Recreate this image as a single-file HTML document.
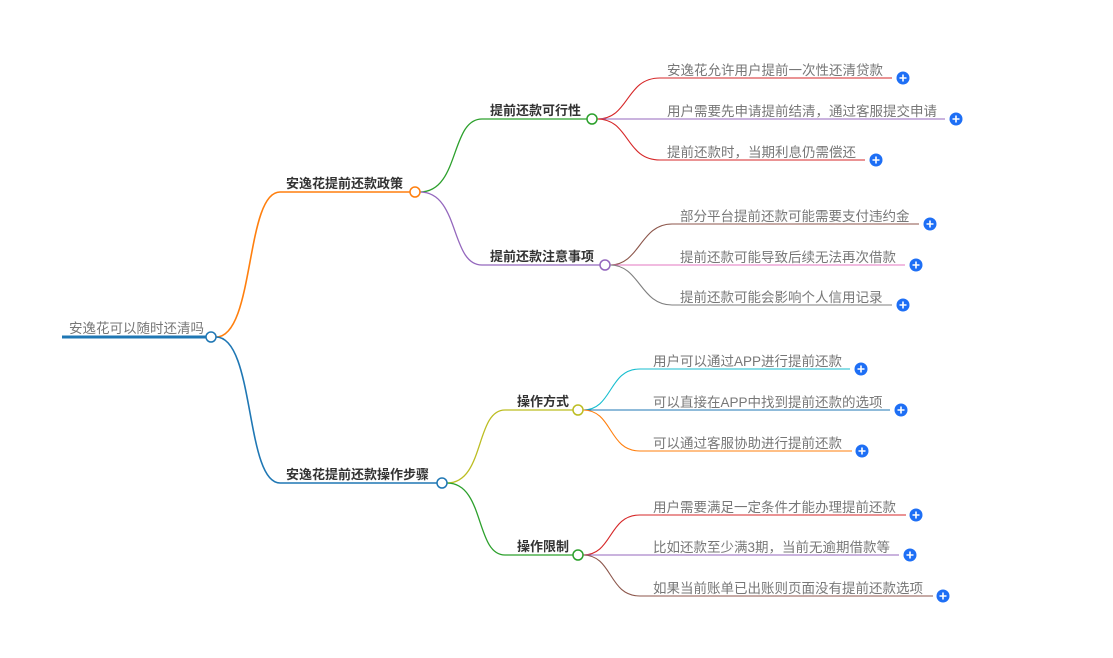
<!DOCTYPE html>
<html><head><meta charset="utf-8"><style>
html,body{margin:0;padding:0;background:#fff;width:1113px;height:658px;overflow:hidden}
svg text{font-family:"Liberation Sans","Noto Sans CJK SC",sans-serif;font-size:13.5px;fill:#777}
svg text.b{font-weight:bold;fill:#333;font-size:13px}
</style></head><body>
<svg width="1113" height="658" viewBox="0 0 1113 658" xmlns="http://www.w3.org/2000/svg" fill="none">
<defs>
<g id="plus"><circle r="6.5" fill="#1e6ff5"/><path d="M-3.5 0H3.5M0 -3.5V3.5" stroke="#fff" stroke-width="1.6"/></g>
</defs>
<!-- root -->
<path d="M62 337H206" stroke="#1f77b4" stroke-width="3"/>
<text x="69" y="333">安逸花可以随时还清吗</text>
<!-- L1 curves -->
<path d="M216 337C255 337 245 192 280 192H410" stroke="#ff7f0e" stroke-width="1.6"/>
<path d="M216 337C255 337 245 483 280 483H437" stroke="#1f77b4" stroke-width="1.6"/>
<text class="b" x="286" y="188">安逸花提前还款政策</text>
<text class="b" x="286" y="479">安逸花提前还款操作步骤</text>
<!-- L2 -->
<path d="M420 192C460 192 450 119 482 119H587" stroke="#2ca02c" stroke-width="1.3"/>
<path d="M420 192C460 192 450 265 482 265H600" stroke="#9467bd" stroke-width="1.3"/>
<path d="M447 483C485 483 475 410 505 410H573" stroke="#bcbd22" stroke-width="1.3"/>
<path d="M447 483C485 483 475 555 505 555H573" stroke="#2ca02c" stroke-width="1.3"/>
<text class="b" x="490" y="115">提前还款可行性</text>
<text class="b" x="490" y="261">提前还款注意事项</text>
<text class="b" x="517" y="406">操作方式</text>
<text class="b" x="517" y="551">操作限制</text>
<!-- leaves 可行性 -->
<path d="M597 119C630 119 625 78 660 78H892" stroke="#d62728" stroke-width="1.1"/>
<path d="M597 119H945" stroke="#9467bd" stroke-width="1.1"/>
<path d="M597 119C630 119 625 160 660 160H865" stroke="#d62728" stroke-width="1.1"/>
<text x="667" y="75">安逸花允许用户提前一次性还清贷款</text>
<text x="667" y="116">用户需要先申请提前结清，通过客服提交申请</text>
<text x="667" y="157">提前还款时，当期利息仍需偿还</text>
<!-- leaves 注意事项 -->
<path d="M610 265C640 265 640 224 672 224H919" stroke="#8c564b" stroke-width="1.1"/>
<path d="M610 265H905" stroke="#e377c2" stroke-width="1.1"/>
<path d="M610 265C640 265 640 305 672 305H892" stroke="#7f7f7f" stroke-width="1.1"/>
<text x="680" y="221">部分平台提前还款可能需要支付违约金</text>
<text x="680" y="262">提前还款可能导致后续无法再次借款</text>
<text x="680" y="302">提前还款可能会影响个人信用记录</text>
<!-- leaves 操作方式 -->
<path d="M583 410C613 410 608 369 640 369H850" stroke="#17becf" stroke-width="1.1"/>
<path d="M583 410H890" stroke="#1f77b4" stroke-width="1.1"/>
<path d="M583 410C613 410 608 451 640 451H852" stroke="#ff7f0e" stroke-width="1.1"/>
<text x="653" y="366">用户可以通过APP进行提前还款</text>
<text x="653" y="407">可以直接在APP中找到提前还款的选项</text>
<text x="653" y="448">可以通过客服协助进行提前还款</text>
<!-- leaves 操作限制 -->
<path d="M583 555C613 555 608 515 640 515H906" stroke="#d62728" stroke-width="1.1"/>
<path d="M583 555H899" stroke="#9467bd" stroke-width="1.1"/>
<path d="M583 555C613 555 608 596 640 596H933" stroke="#8c564b" stroke-width="1.1"/>
<text x="653" y="512">用户需要满足一定条件才能办理提前还款</text>
<text x="653" y="552">比如还款至少满3期，当前无逾期借款等</text>
<text x="653" y="593">如果当前账单已出账则页面没有提前还款选项</text>
<!-- circles -->
<circle cx="211" cy="337" r="5" fill="#fff" stroke="#1f77b4" stroke-width="1.5"/>
<circle cx="415" cy="192" r="5" fill="#fff" stroke="#ff7f0e" stroke-width="1.5"/>
<circle cx="442" cy="483" r="5" fill="#fff" stroke="#1f77b4" stroke-width="1.5"/>
<circle cx="592" cy="119" r="5" fill="#fff" stroke="#2ca02c" stroke-width="1.5"/>
<circle cx="605" cy="265" r="5" fill="#fff" stroke="#9467bd" stroke-width="1.5"/>
<circle cx="578" cy="410" r="5" fill="#fff" stroke="#bcbd22" stroke-width="1.5"/>
<circle cx="578" cy="555" r="5" fill="#fff" stroke="#2ca02c" stroke-width="1.5"/>
<!-- plus -->
<use href="#plus" x="903" y="78"/>
<use href="#plus" x="956" y="119"/>
<use href="#plus" x="876" y="160"/>
<use href="#plus" x="930" y="224"/>
<use href="#plus" x="916" y="265"/>
<use href="#plus" x="903" y="305"/>
<use href="#plus" x="861" y="369"/>
<use href="#plus" x="901" y="410"/>
<use href="#plus" x="862" y="451"/>
<use href="#plus" x="916" y="515"/>
<use href="#plus" x="910" y="555"/>
<use href="#plus" x="943" y="596"/>
</svg>
</body></html>
